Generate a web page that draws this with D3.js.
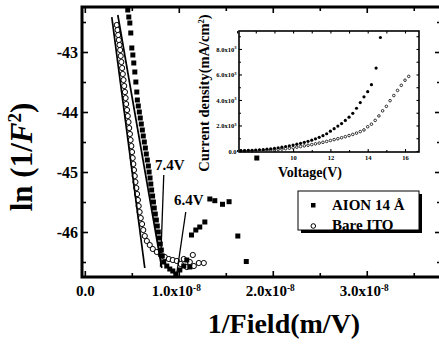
<!DOCTYPE html>
<html>
<head>
<meta charset="utf-8">
<script src="https://cdn.jsdelivr.net/npm/d3@7"></script>
<style>
  html, body { margin: 0; padding: 0; background: #fff; }
  svg { display: block; }
</style>
</head>
<body>
<div id="chart"></div>
<script>
// Main plot: x = 1/Field in units of 1e-8 m/V, y = ln(1/F^2)
const xMajor = [0, 1, 2, 3];
const xMinor = [0.5, 1.5, 2.5, 3.5];
const yMajor = [-43, -44, -45, -46];
const yMinor = [-42.5, -43.5, -44.5, -45.5, -46.5];

const aionX = [0.457, 0.468, 0.479, 0.489, 0.500, 0.511, 0.521, 0.532, 0.543, 0.553,
  0.559, 0.569, 0.580, 0.590, 0.601, 0.612, 0.622, 0.633, 0.644, 0.654,
  0.665, 0.676, 0.684, 0.694, 0.702, 0.711, 0.721, 0.730, 0.739, 0.750,
  0.761, 0.771, 0.782, 0.793, 0.803, 0.814, 0.824, 0.840, 0.872, 0.904,
  0.936, 0.968, 1.011, 1.053, 1.085, 1.117, 1.135, 1.181, 1.223, 1.277,
  1.330, 1.383, 1.465, 1.535, 1.628, 1.718, 1.830];
const aionY = [-42.30, -42.417, -42.517, -42.683, -42.933, -43.05, -43.183, -43.333, -43.5, -43.667,
  -43.8, -43.9, -44.0, -44.1, -44.2, -44.3, -44.4, -44.5, -44.6, -44.7,
  -44.8, -44.9, -45.0, -45.1, -45.2, -45.3, -45.4, -45.5, -45.6, -45.7,
  -45.8, -45.9, -46.0, -46.1, -46.2, -46.3, -46.4, -46.5, -46.567, -46.617,
  -46.65, -46.7, -46.633, -46.567, -46.467, -46.583, -46.05, -45.967, -45.917, -45.833,
  -45.45, -45.478, -45.538, -45.495, -46.067, -46.492, -44.767];

const itoX = [0.340, 0.348, 0.355, 0.362, 0.369, 0.376, 0.382, 0.389, 0.397, 0.404,
  0.412, 0.419, 0.427, 0.434, 0.440, 0.449, 0.457, 0.465, 0.472, 0.480,
  0.487, 0.495, 0.502, 0.509, 0.516, 0.523, 0.531, 0.539, 0.548, 0.556,
  0.565, 0.573, 0.583, 0.595, 0.609, 0.622, 0.638, 0.660, 0.691, 0.723,
  0.766, 0.809, 0.851, 0.894, 0.936, 0.979, 1.021, 1.053, 1.085, 1.117,
  1.149, 1.160, 1.213, 1.266];
const itoY = [-42.55, -42.633, -42.717, -42.8, -42.883, -42.967, -43.067, -43.167, -43.267, -43.367,
  -43.467, -43.567, -43.667, -43.767, -43.867, -43.967, -44.067, -44.167, -44.267, -44.367,
  -44.467, -44.567, -44.667, -44.767, -44.867, -44.967, -45.067, -45.167, -45.267, -45.367,
  -45.467, -45.567, -45.667, -45.767, -45.867, -45.967, -46.067, -46.15, -46.217, -46.283,
  -46.333, -46.383, -46.417, -46.45, -46.467, -46.483, -46.533, -46.45, -46.583, -46.5,
  -46.383, -46.567, -46.517, -46.517];

// straight-line fits drawn through each series
const fitAion = [[0.351, -42.383], [0.819, -46.6]];
const fitIto = [[0.287, -42.417], [0.638, -46.6]];

// onset-voltage callouts
const calloutLabels = ['7.4V', '6.4V'];
const calloutText = [[0.904, -44.967], [1.106, -45.55]];
const calloutLines = [
  [[0.840, -45.05], [0.805, -46.58]],
  [[1.074, -45.667], [0.979, -46.683]]
];

const seriesNames = ['AION 14 Å', 'Bare ITO'];

// Inset: J-V curves, J in units of 1e3 mA/cm^2
const voltsAion = [7.2, 7.4, 7.6, 7.8, 8.0, 8.2, 8.4, 8.6, 8.8, 9.0,
  9.2, 9.4, 9.6, 9.8, 10.0, 10.2, 10.4, 10.6, 10.8, 11.0,
  11.2, 11.4, 11.6, 11.8, 12.0, 12.2, 12.4, 12.6, 12.8, 13.0,
  13.2, 13.4, 13.6, 13.8, 14.0, 14.2, 14.45, 14.68];
const jAion = [0.02, 0.03, 0.04, 0.05, 0.07, 0.09, 0.11, 0.14, 0.17, 0.21,
  0.25, 0.30, 0.35, 0.41, 0.47, 0.53, 0.60, 0.68, 0.76, 0.85,
  0.95, 1.07, 1.20, 1.35, 1.55, 1.75, 1.95, 2.15, 2.40, 2.65,
  2.95, 3.35, 3.80, 4.25, 4.65, 5.20, 6.50, 8.90];
const voltsIto = [7.2, 7.4, 7.6, 7.8, 8.0, 8.2, 8.4, 8.6, 8.8, 9.0,
  9.2, 9.4, 9.6, 9.8, 10.0, 10.2, 10.4, 10.6, 10.8, 11.0,
  11.2, 11.4, 11.6, 11.8, 12.0, 12.2, 12.4, 12.6, 12.8, 13.0,
  13.2, 13.4, 13.6, 13.8, 14.0, 14.2, 14.4, 14.6, 14.8, 15.0,
  15.2, 15.4, 15.6, 15.8, 16.0, 16.2];
const jIto = [0.01, 0.01, 0.02, 0.02, 0.03, 0.04, 0.05, 0.06, 0.08, 0.10,
  0.12, 0.15, 0.18, 0.22, 0.26, 0.30, 0.35, 0.40, 0.45, 0.50,
  0.56, 0.62, 0.68, 0.75, 0.82, 0.89, 0.96, 1.04, 1.12, 1.21,
  1.30, 1.40, 1.52, 1.65, 1.90, 2.10, 2.40, 2.75, 3.15, 3.50,
  3.95, 4.35, 4.75, 5.15, 5.55, 5.85];
const insetXMajor = [8, 10, 12, 14, 16];
const insetXMinor = [7, 9, 11, 13, 15];
const insetYMajor = [0, 2, 4, 6, 8];
const insetYMinor = [1, 3, 5, 7, 9];

const FONT = '"Liberation Serif", "Times New Roman", serif';
const W = 439, H = 345;
const frame = { left: 82, right: 441, top: 7, bottom: 277 };
const inset = { left: 239, right: 419, top: 31, bottom: 152 };

const svg = d3.select('#chart').append('svg')
  .attr('width', W).attr('height', H)
  .attr('font-family', FONT)
  .attr('font-weight', 'bold');

const x = d3.scaleLinear().domain([-0.03, 3.79]).range([frame.left, frame.right]);
const y = d3.scaleLinear().domain([-46.75, -42.25]).range([frame.bottom, frame.top]);

function tidy(g, size) {
  g.attr('font-family', FONT).attr('font-size', size);
  g.select('.domain').remove();
  g.selectAll('line').attr('stroke', '#000').attr('stroke-width', 1.6);
  g.selectAll('text').attr('fill', '#000');
  return g;
}

const blank = () => '';

// main axes: ticks point inward on every side
tidy(svg.append('g').attr('transform', `translate(${frame.left},0)`)
  .call(d3.axisLeft(y).tickValues(yMajor).tickSize(-6).tickPadding(4).tickFormat(d => String(d))), 16);
tidy(svg.append('g').attr('transform', `translate(${frame.left},0)`)
  .call(d3.axisLeft(y).tickValues(yMinor).tickSize(-4).tickFormat(blank)), 16);
tidy(svg.append('g').attr('transform', `translate(${frame.right},0)`)
  .call(d3.axisRight(y).tickValues(yMajor).tickSize(-6).tickFormat(blank)), 16);
tidy(svg.append('g').attr('transform', `translate(${frame.right},0)`)
  .call(d3.axisRight(y).tickValues(yMinor).tickSize(-4).tickFormat(blank)), 16);

const xAxisG = tidy(svg.append('g').attr('transform', `translate(0,${frame.bottom})`)
  .call(d3.axisBottom(x).tickValues(xMajor).tickSize(-6).tickPadding(8)), 15);
xAxisG.selectAll('.tick text').each(function (d) {
  const t = d3.select(this).text('');
  if (d === 0) { t.text('0.0'); return; }
  t.attr('dx', -3);
  t.append('tspan').text(d.toFixed(1) + 'x10');
  t.append('tspan').attr('dy', '-0.5em').attr('font-size', '0.62em').text('-8');
});
tidy(svg.append('g').attr('transform', `translate(0,${frame.bottom})`)
  .call(d3.axisBottom(x).tickValues(xMinor).tickSize(-4).tickFormat(blank)), 15);
tidy(svg.append('g').attr('transform', `translate(0,${frame.top})`)
  .call(d3.axisTop(x).tickValues(xMajor).tickSize(-6).tickFormat(blank)), 15);
tidy(svg.append('g').attr('transform', `translate(0,${frame.top})`)
  .call(d3.axisTop(x).tickValues(xMinor).tickSize(-4).tickFormat(blank)), 15);

svg.append('rect')
  .attr('x', frame.left).attr('y', frame.top)
  .attr('width', frame.right - frame.left).attr('height', frame.bottom - frame.top)
  .attr('fill', 'none').attr('stroke', '#000').attr('stroke-width', 3);

svg.append('defs').append('clipPath').attr('id', 'plot-clip')
  .append('rect')
  .attr('x', frame.left).attr('y', frame.top)
  .attr('width', frame.right - frame.left).attr('height', frame.bottom - frame.top);

const plot = svg.append('g').attr('clip-path', 'url(#plot-clip)');
const line = d3.line().x(d => x(d[0])).y(d => y(d[1]));

// Bare ITO: open circles
plot.append('g').selectAll('circle')
  .data(d3.zip(itoX, itoY))
  .join('circle')
  .attr('cx', d => x(d[0])).attr('cy', d => y(d[1]))
  .attr('r', 2.6)
  .attr('fill', '#fff').attr('stroke', '#000').attr('stroke-width', 1);

[fitIto, fitAion].forEach(f => {
  plot.append('path').attr('d', line(f))
    .attr('fill', 'none').attr('stroke', '#000').attr('stroke-width', 1.7);
});

// AlON: filled squares
plot.append('g').selectAll('rect')
  .data(d3.zip(aionX, aionY))
  .join('rect')
  .attr('x', d => x(d[0]) - 2.5).attr('y', d => y(d[1]) - 2.5)
  .attr('width', 5).attr('height', 5)
  .attr('fill', '#000');

calloutLabels.forEach((label, i) => {
  plot.append('path').attr('d', line(calloutLines[i]))
    .attr('fill', 'none').attr('stroke', '#000').attr('stroke-width', 1.3);
  plot.append('text')
    .attr('x', x(calloutText[i][0])).attr('y', y(calloutText[i][1]))
    .attr('text-anchor', 'middle').attr('font-size', 15)
    .text(label);
});

// axis titles
svg.append('text')
  .attr('x', 284).attr('y', 333)
  .attr('text-anchor', 'middle').attr('font-size', 28)
  .text('1/Field(m/V)');

const yTitle = svg.append('text')
  .attr('transform', 'translate(32,157) rotate(-90)')
  .attr('text-anchor', 'middle').attr('font-size', 31);
yTitle.append('tspan').text('ln (1/');
yTitle.append('tspan').attr('font-style', 'italic').text('F');
yTitle.append('tspan').attr('dy', -11).attr('font-size', 19).text('2');
yTitle.append('tspan').attr('dy', 11).text(')');

// inset J-V plot
const ix = d3.scaleLinear().domain([7.1, 16.75]).range([inset.left, inset.right]);
const iy = d3.scaleLinear().domain([-0.08, 9.41]).range([inset.bottom, inset.top]);

svg.append('rect')
  .attr('x', inset.left).attr('y', inset.top)
  .attr('width', inset.right - inset.left).attr('height', inset.bottom - inset.top)
  .attr('fill', '#fff');

function tidyInset(g) {
  g.attr('font-family', FONT).attr('font-size', 6.5);
  g.select('.domain').remove();
  g.selectAll('line').attr('stroke', '#000').attr('stroke-width', 1.1);
  return g;
}

const iyAxis = tidyInset(svg.append('g').attr('transform', `translate(${inset.left},0)`)
  .call(d3.axisLeft(iy).tickValues(insetYMajor).tickSize(-3).tickPadding(2.5)));
iyAxis.selectAll('.tick text').each(function (d) {
  const t = d3.select(this).text('');
  if (d === 0) { t.text('0.0'); return; }
  t.append('tspan').text(d.toFixed(1) + 'x10');
  t.append('tspan').attr('dy', '-0.5em').attr('font-size', '0.7em').text('3');
});
tidyInset(svg.append('g').attr('transform', `translate(${inset.left},0)`)
  .call(d3.axisLeft(iy).tickValues(insetYMinor).tickSize(-2).tickFormat(blank)));
tidyInset(svg.append('g').attr('transform', `translate(${inset.right},0)`)
  .call(d3.axisRight(iy).tickValues(insetYMajor.concat(insetYMinor)).tickSize(-2.5).tickFormat(blank)));
tidyInset(svg.append('g').attr('transform', `translate(0,${inset.bottom})`)
  .call(d3.axisBottom(ix).tickValues(insetXMajor).tickSize(-3).tickPadding(3.5).tickFormat(d => String(d))));
tidyInset(svg.append('g').attr('transform', `translate(0,${inset.bottom})`)
  .call(d3.axisBottom(ix).tickValues(insetXMinor).tickSize(-2).tickFormat(blank)));
tidyInset(svg.append('g').attr('transform', `translate(0,${inset.top})`)
  .call(d3.axisTop(ix).tickValues(insetXMajor.concat(insetXMinor)).tickSize(-2.5).tickFormat(blank)));

svg.append('rect')
  .attr('x', inset.left).attr('y', inset.top)
  .attr('width', inset.right - inset.left).attr('height', inset.bottom - inset.top)
  .attr('fill', 'none').attr('stroke', '#000').attr('stroke-width', 1.6);

svg.append('g').selectAll('circle')
  .data(d3.zip(voltsIto, jIto))
  .join('circle')
  .attr('cx', d => ix(d[0])).attr('cy', d => iy(d[1]))
  .attr('r', 1.3)
  .attr('fill', '#fff').attr('stroke', '#000').attr('stroke-width', 0.8);

svg.append('g').selectAll('circle')
  .data(d3.zip(voltsAion, jAion))
  .join('circle')
  .attr('cx', d => ix(d[0])).attr('cy', d => iy(d[1]))
  .attr('r', 1.6)
  .attr('fill', '#000');

svg.append('text')
  .attr('x', 310).attr('y', 177)
  .attr('text-anchor', 'middle').attr('font-size', 14)
  .text('Voltage(V)');

const iyTitle = svg.append('text')
  .attr('transform', 'translate(209,93) rotate(-90)')
  .attr('text-anchor', 'middle').attr('font-size', 14.5);
iyTitle.append('tspan').text('Current density(mA/cm');
iyTitle.append('tspan').attr('dy', -5).attr('font-size', 8.5).text('2');
iyTitle.append('tspan').attr('dy', 5).text(')');

// legend box with drop shadow
const legend = { x: 298, y: 191, w: 121, h: 39 };
svg.append('rect')
  .attr('x', legend.x + 3).attr('y', legend.y + 3)
  .attr('width', legend.w).attr('height', legend.h)
  .attr('fill', '#000');
svg.append('rect')
  .attr('x', legend.x).attr('y', legend.y)
  .attr('width', legend.w).attr('height', legend.h)
  .attr('fill', '#fff').attr('stroke', '#000').attr('stroke-width', 1);

svg.append('rect')
  .attr('x', 311).attr('y', 203).attr('width', 4.5).attr('height', 4.5)
  .attr('fill', '#000');
svg.append('circle')
  .attr('cx', 313.3).attr('cy', 226).attr('r', 2.3)
  .attr('fill', '#fff').attr('stroke', '#000').attr('stroke-width', 1);

seriesNames.forEach((name, i) => {
  svg.append('text')
    .attr('x', 332).attr('y', 210 + i * 20)
    .attr('font-size', 15)
    .text(name);
});
</script>
</body>
</html>
